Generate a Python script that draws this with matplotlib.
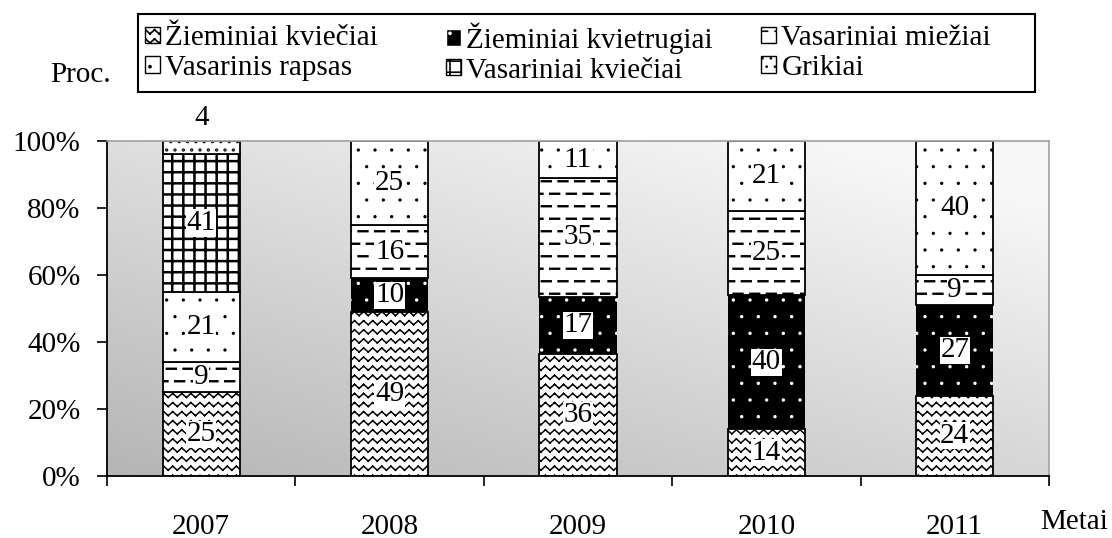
import warnings
import numpy as np
import matplotlib
matplotlib.use("Agg")
import matplotlib.pyplot as plt
import matplotlib.hatch as mhatch
from matplotlib.patches import Patch, Rectangle

warnings.filterwarnings("ignore")

years = ["2007", "2008", "2009", "2010", "2011"]
crops = [
    "Žieminiai kviečiai",
    "Žieminiai kvietrugiai",
    "Vasariniai miežiai",
    "Vasarinis rapsas",
    "Vasariniai kviečiai",
    "Grikiai",
]
# shares (%) per crop, in the same order as years
winter_wheat = [25, 49, 36, 14, 24]
winter_triticale = [0, 10, 17, 40, 27]
spring_barley = [9, 16, 35, 25, 9]
spring_rape = [21, 25, 11, 21, 40]
spring_wheat = [41, 0, 0, 0, 0]
buckwheat = [4, 0, 0, 0, 0]
series = [winter_wheat, winter_triticale, spring_barley, spring_rape, spring_wheat, buckwheat]


# extra hatch patterns: zigzag ('z'), dashes ('d'), grid ('g'), small dots ('p')
class ZigzagHatch(mhatch.HatchPatternBase):
    def __init__(self, hatch, density):
        self.rows = hatch.count("z") * 11
        self.segs = 22
        self.num_vertices = self.rows * self.segs * 2

    def set_vertices_and_codes(self, vertices, codes):
        xs = np.linspace(0, 1, self.segs + 1)
        amp = 0.02 * (-1) ** np.arange(self.segs + 1)
        v = vertices.reshape(self.rows, self.segs, 2, 2)
        for r in range(self.rows):
            ys = (r + 0.5) / self.rows + amp
            v[r, :, 0, 0] = xs[:-1]
            v[r, :, 0, 1] = ys[:-1]
            v[r, :, 1, 0] = xs[1:]
            v[r, :, 1, 1] = ys[1:]
        codes[0::2] = mhatch.Path.MOVETO
        codes[1::2] = mhatch.Path.LINETO


class DashHatch(mhatch.HatchPatternBase):
    def __init__(self, hatch, density):
        self.rows = hatch.count("d") * 8
        self.per_row = 6
        self.num_vertices = self.rows * self.per_row * 2

    def set_vertices_and_codes(self, vertices, codes):
        v = vertices.reshape(self.rows, self.per_row, 2, 2)
        half = 0.045
        for r in range(self.rows):
            y = (r + 0.5) / self.rows
            shift = 0.28 if r % 2 == 0 else 0.78
            cx = (np.arange(self.per_row) + shift) / self.per_row
            v[r, :, 0, 0] = cx - half
            v[r, :, 1, 0] = cx + half
            v[r, :, :, 1] = y
        codes[0::2] = mhatch.Path.MOVETO
        codes[1::2] = mhatch.Path.LINETO


class GridHatch(mhatch.HatchPatternBase):
    def __init__(self, hatch, density):
        self.lines = hatch.count("g") * 9
        self.num_vertices = self.lines * 4

    def set_vertices_and_codes(self, vertices, codes):
        pos = (np.arange(self.lines) + 0.5) / self.lines
        n = self.lines
        vertices[0:2 * n:2] = np.column_stack([np.zeros(n), pos])
        vertices[1:2 * n:2] = np.column_stack([np.ones(n), pos])
        vertices[2 * n::2] = np.column_stack([pos, np.zeros(n)])
        vertices[2 * n + 1::2] = np.column_stack([pos, np.ones(n)])
        codes[0::2] = mhatch.Path.MOVETO
        codes[1::2] = mhatch.Path.LINETO


class SparseDots(mhatch.Circles):
    size = 0.06
    filled = True

    def __init__(self, hatch, density):
        self.num_rows = hatch.count("p") * 6
        super().__init__(hatch, density)


mhatch._hatch_types.extend([ZigzagHatch, DashHatch, GridHatch, SparseDots])

plt.rcParams["font.family"] = ["Liberation Serif", "DejaVu Serif"]
plt.rcParams["hatch.linewidth"] = 1.2

styles = [
    dict(facecolor="white", edgecolor="black", hatch="z"),
    dict(facecolor="black", edgecolor="white", hatch="p"),
    dict(facecolor="white", edgecolor="black", hatch="d"),
    dict(facecolor="white", edgecolor="black", hatch="p"),
    dict(facecolor="white", edgecolor="black", hatch="g"),
    dict(facecolor="white", edgecolor="black", hatch="pp"),
]
hatch_widths = [1.1, 1.0, 1.7, 0.9, 1.8, 1.6]

fig = plt.figure(figsize=(11.12, 5.38), dpi=100)
ax = fig.add_axes([107 / 1112, 1 - 476 / 538, 942 / 1112, 335 / 538])

# gradient plot area
gx, gy = np.meshgrid(np.linspace(0, 1, 200), np.linspace(1, 0, 100))
shade = np.clip(0.71 + 0.16 * gy + 0.13 * gx, 0, 0.97)
ax.imshow(np.dstack([shade] * 3), extent=(-0.5, 4.5, 0, 100), aspect="auto",
          interpolation="bilinear", zorder=0)

x = np.arange(len(years))
width = 0.41
totals = np.sum(series, axis=0)
bottom = np.zeros(len(years))
fs = 21

for vals, st, hw in zip(series, styles, hatch_widths):
    vals = np.array(vals, dtype=float)
    share = vals / totals * 100
    mask = vals > 0
    lw = 0 if st["facecolor"] == "black" else 1.3
    with plt.rc_context({"hatch.linewidth": hw}):
        bars = ax.bar(x[mask], share[mask], width, bottom=bottom[mask],
                      linewidth=lw, zorder=2, **st)
    for b in bars:
        if hasattr(b, "set_hatch_linewidth"):
            b.set_hatch_linewidth(hw)
    for xi, v, s, b in zip(x, vals, share, bottom):
        if v <= 0:
            continue
        if v < 6:
            ax.text(xi, 100 + 7, f"{int(v)}", ha="center", va="center",
                    fontsize=fs, clip_on=False, zorder=5)
        else:
            ax.text(xi, b + s / 2, f"{int(v)}", ha="center", va="center",
                    fontsize=fs, zorder=5,
                    bbox=dict(facecolor="white", edgecolor="none", pad=0.5))
    bottom += share

ax.set_xlim(-0.5, 4.5)
ax.set_ylim(0, 100)
ax.set_yticks([0, 20, 40, 60, 80, 100])
ax.set_yticklabels([f"{t}%" for t in [0, 20, 40, 60, 80, 100]], fontsize=fs)
ax.tick_params(axis="y", direction="out", length=7, width=1.2, pad=12)
ax.set_xticks(x)
ax.set_xticklabels(years, fontsize=fs)
ax.set_xticks(np.arange(-0.5, 5, 1), minor=True)
ax.tick_params(axis="x", which="major", length=0, pad=27)
ax.tick_params(axis="x", which="minor", direction="out", length=7, width=1.2)

for side in ["left", "bottom"]:
    ax.spines[side].set_linewidth(1.3)
    ax.spines[side].set_color("black")
for side in ["top", "right"]:
    ax.spines[side].set_linewidth(1.2)
    ax.spines[side].set_color("#a0a0a0")

fig.text(50 / 1112, 1 - 75 / 538, "Proc.", fontsize=fs, ha="left", va="center")
fig.text(1040 / 1112, 1 - 522 / 538, "Metai", fontsize=fs, ha="left", va="center")

# legend: three columns of two entries inside one frame
fig.patches.append(Rectangle((138 / 1112, 1 - 92 / 538), 897 / 1112, 78 / 538,
                             transform=fig.transFigure, fill=False,
                             edgecolor="black", linewidth=1.5))
handles = []
for st, hw in zip(styles, hatch_widths):
    h = Patch(linewidth=1.0, **st)
    if hasattr(h, "set_hatch_linewidth"):
        h.set_hatch_linewidth(min(hw, 1.0))
    handles.append(h)
col_x = [145, 446, 761]
for c in range(3):
    idx = [c, c + 3]
    fig.legend([handles[i] for i in idx], [crops[i] for i in idx],
               loc="center left", bbox_to_anchor=(col_x[c] / 1112, 1 - 53 / 538),
               frameon=False, fontsize=fs, handlelength=0.5, handleheight=0.5,
               handletextpad=0.2, labelspacing=0.12, borderpad=0,
               borderaxespad=0)

fig.savefig("out.png", dpi=100)
